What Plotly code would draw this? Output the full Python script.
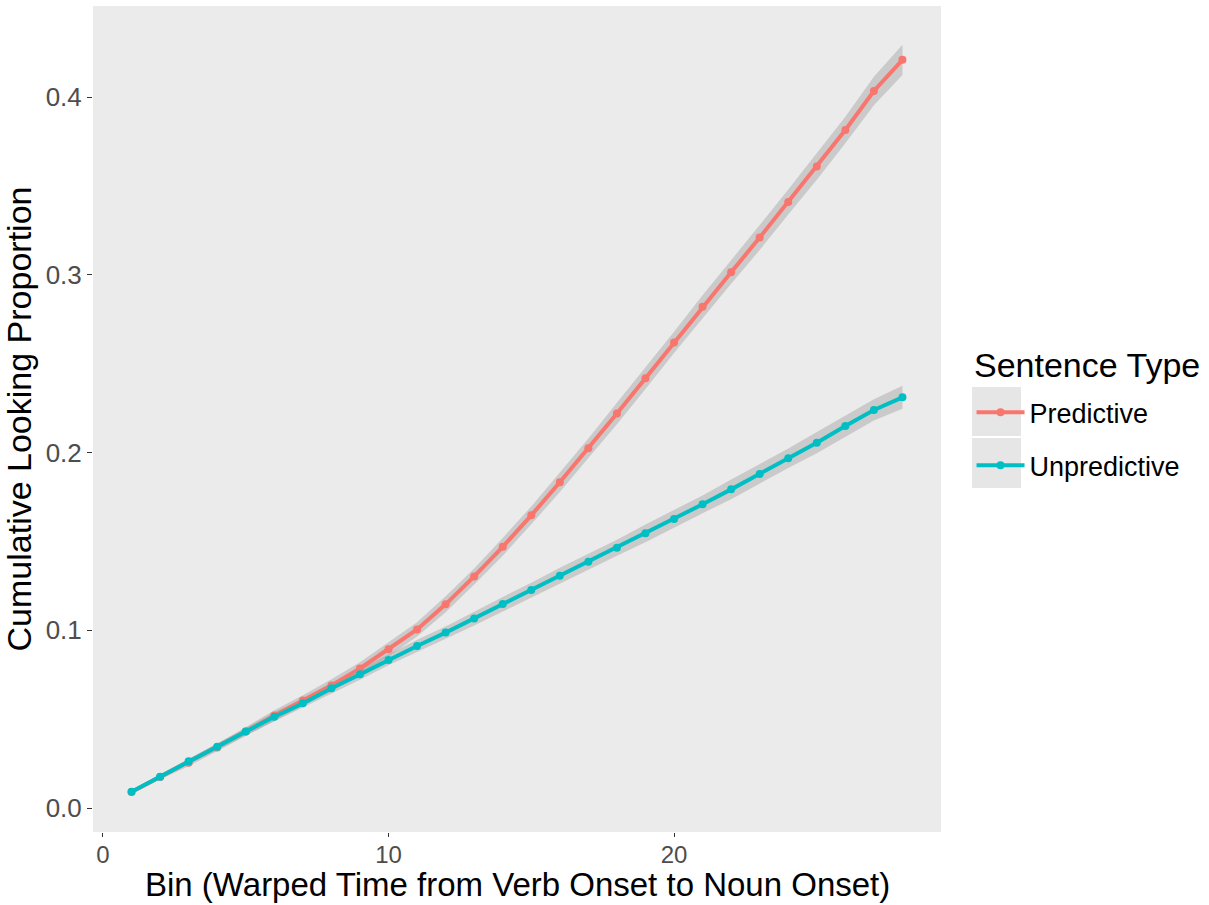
import plotly.graph_objects as go

bins = list(range(1, 29))
predictive = [0.009, 0.0175, 0.0255, 0.034, 0.043, 0.052, 0.0605, 0.069, 0.0785, 0.0893,
              0.1005, 0.1146, 0.1303, 0.147, 0.1647, 0.1833, 0.2024, 0.222, 0.2418, 0.262,
              0.282, 0.3015, 0.321, 0.341, 0.361, 0.3815, 0.4035, 0.421]
unpredictive = [0.0092, 0.0176, 0.0263, 0.0345, 0.043, 0.0514, 0.0589, 0.0674, 0.0752, 0.0833,
                0.0912, 0.0987, 0.1067, 0.1148, 0.1227, 0.1307, 0.1386, 0.1465, 0.1546, 0.1626,
                0.1709, 0.1793, 0.188, 0.1968, 0.2056, 0.215, 0.224, 0.2311]
predictive_se = [0.001, 0.0015, 0.002, 0.002, 0.0025, 0.003, 0.003, 0.0035, 0.0035, 0.004,
                 0.004, 0.0045, 0.0045, 0.005, 0.005, 0.0055, 0.0055, 0.006, 0.006, 0.006,
                 0.0065, 0.0065, 0.007, 0.007, 0.0075, 0.0075, 0.008, 0.0085]
unpredictive_se = [0.001, 0.0015, 0.0015, 0.002, 0.002, 0.0025, 0.0025, 0.003, 0.003, 0.003,
                   0.0035, 0.0035, 0.004, 0.004, 0.004, 0.0045, 0.0045, 0.0045, 0.005, 0.005,
                   0.005, 0.0055, 0.0055, 0.0055, 0.006, 0.006, 0.006, 0.0065]
series_names = ["Predictive", "Unpredictive"]
colors = ["#F8766D", "#00BFC4"]
x_ticks = [0, 10, 20]
y_ticks = [0.0, 0.1, 0.2, 0.3, 0.4]
x_title = "Bin (Warped Time from Verb Onset to Noun Onset)"
y_title = "Cumulative Looking Proportion"
legend_title = "Sentence Type"

fig = go.Figure()
series = [predictive, unpredictive]
ses = [predictive_se, unpredictive_se]

for vals, se in zip(series, ses):
    upper = [v + s for v, s in zip(vals, se)]
    lower = [v - s for v, s in zip(vals, se)]
    fig.add_trace(go.Scatter(
        x=bins + bins[::-1], y=upper + lower[::-1],
        fill="toself", fillcolor="rgba(153,153,153,0.4)",
        line=dict(width=0), mode="lines", showlegend=False, hoverinfo="skip"))

for i, (name, vals, col) in enumerate(zip(series_names, series, colors)):
    fig.add_trace(go.Scatter(
        x=bins, y=vals, name=name, mode="lines+markers",
        line=dict(color=col, width=4), marker=dict(color=col, size=8),
        legendgroup=name))

# legend key backgrounds (ggplot style grey boxes)
key_boxes = [(1.0366, 1.0943, 0.4794, 0.5387), (1.0366, 1.0943, 0.4165, 0.4770)]
for x0, x1, y0, y1 in key_boxes:
    fig.add_shape(type="rect", xref="paper", yref="paper", x0=x0, x1=x1, y0=y0, y1=y1,
                  fillcolor="#E6E6E6", line=dict(width=0), layer="below")

fig.add_annotation(text=legend_title, xref="paper", yref="paper",
                   x=1.0366, y=0.5654, xanchor="left", yanchor="middle",
                   showarrow=False, font=dict(size=34, color="black"))

fig.add_annotation(text=x_title, xref="paper", yref="paper",
                   x=0.5, y=-0.0884, xanchor="center", yanchor="bottom",
                   showarrow=False, font=dict(size=33, color="black"))

fig.update_layout(
    width=1209, height=905,
    margin=dict(l=93, r=268, t=6, b=73),
    paper_bgcolor="white", plot_bgcolor="#EBEBEB",
    font=dict(family="Liberation Sans, Arial, sans-serif", color="black"),
    showlegend=True,
    legend=dict(
        font=dict(size=27, color="black"),
        x=1.036, xanchor="left", y=0.5374, yanchor="top",
        tracegroupgap=15, itemwidth=48, bgcolor="rgba(0,0,0,0)",
    ),
    xaxis=dict(
        range=[-0.35, 29.35], tickvals=x_ticks, ticktext=[str(t) for t in x_ticks],
        showgrid=False, zeroline=False, ticks="outside", ticklen=4,
        tickcolor="#333333", tickwidth=1.2, ticklabelstandoff=-3,
        tickfont=dict(size=24, color="#4D4D4D"),
    ),
    yaxis=dict(
        range=[-0.0135, 0.4513], tickvals=y_ticks, ticktext=[f"{t:.1f}" for t in y_ticks],
        showgrid=False, zeroline=False, ticks="outside", ticklen=5,
        tickcolor="#333333", tickwidth=1.2,
        tickfont=dict(size=26, color="#4D4D4D"),
        title=dict(text=y_title, font=dict(size=34, color="black"), standoff=8),
    ),
)

fig.write_html("out.html")
